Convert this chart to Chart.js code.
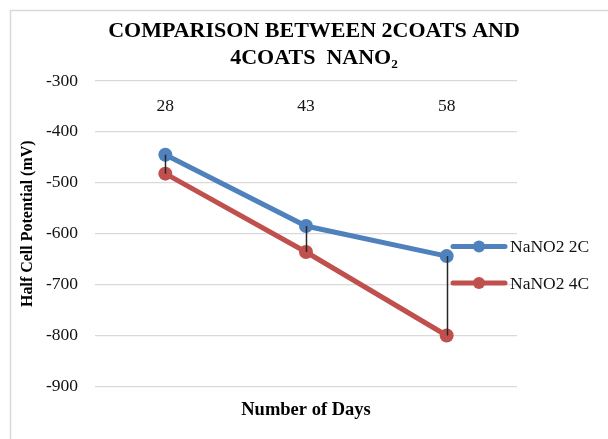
<!DOCTYPE html>
<html>
<head>
<meta charset="utf-8">
<script src="https://cdn.jsdelivr.net/npm/chart.js@4/dist/chart.umd.min.js"></script>
<style>
  html, body { margin: 0; padding: 0; background: #ffffff; }
  #wrap { width: 608px; height: 439px; }
</style>
</head>
<body>
<div id="wrap"><canvas id="c" width="608" height="439"></canvas></div>
<script>
// Half cell potential readings (mV) after each exposure period
const days = ['28', '43', '58'];
const nano2TwoCoats = [-445, -585, -644];
const nano2FourCoats = [-482, -636, -800];
const seriesNames = ['NaNO2 2C', 'NaNO2 4C'];
const seriesColors = ['#4F81BD', '#C0504D'];
const yMin = -900, yMax = -300, yStep = 100;

const serif = "'Liberation Serif', 'Times New Roman', serif";

// Thin frame around the whole chart
const framePlugin = {
  id: 'frame',
  beforeDraw(chart) {
    const ctx = chart.ctx;
    ctx.save();
    ctx.fillStyle = '#ffffff';
    ctx.fillRect(0, 0, chart.width, chart.height);
    ctx.strokeStyle = '#d9d9d9';
    ctx.lineWidth = 1.5;
    ctx.strokeRect(10.5, 10.5, chart.width + 20, chart.height + 20);
    ctx.restore();
  }
};

// Category labels sit just under the top gridline, where the horizontal axis crosses
const dayLabelPlugin = {
  id: 'dayLabels',
  afterDraw(chart) {
    const ctx = chart.ctx, x = chart.scales.x;
    ctx.save();
    ctx.font = '17.5px ' + serif;
    ctx.fillStyle = '#111111';
    ctx.textAlign = 'center';
    ctx.textBaseline = 'middle';
    days.forEach((d, i) => ctx.fillText(d, x.getPixelForValue(i), chart.chartArea.top + 25));
    ctx.restore();
  }
};

// High-low lines joining the two series at each day
const dropLinePlugin = {
  id: 'dropLines',
  afterDatasetsDraw(chart) {
    const ctx = chart.ctx, x = chart.scales.x, y = chart.scales.y;
    ctx.save();
    ctx.strokeStyle = '#262626';
    ctx.lineWidth = 1.5;
    days.forEach((d, i) => {
      const px = Math.round(x.getPixelForValue(i)) + 0.5;
      ctx.beginPath();
      ctx.moveTo(px, y.getPixelForValue(nano2TwoCoats[i]));
      ctx.lineTo(px, y.getPixelForValue(nano2FourCoats[i]));
      ctx.stroke();
    });
    ctx.restore();
  }
};

// Legend with line-and-marker keys, placed over the right edge of the plot
const legendPlugin = {
  id: 'lineLegend',
  afterDraw(chart) {
    const ctx = chart.ctx;
    const rows = [246.5, 283];
    ctx.save();
    chart.data.datasets.forEach((ds, i) => {
      const cy = rows[i];
      ctx.strokeStyle = ds.borderColor;
      ctx.lineWidth = 5;
      ctx.lineCap = 'round';
      ctx.beginPath();
      ctx.moveTo(453, cy);
      ctx.lineTo(505, cy);
      ctx.stroke();
      ctx.fillStyle = ds.borderColor;
      ctx.beginPath();
      ctx.arc(479, cy, 6, 0, Math.PI * 2);
      ctx.fill();
      ctx.fillStyle = '#111111';
      ctx.font = '17.5px ' + serif;
      ctx.textAlign = 'left';
      ctx.textBaseline = 'middle';
      ctx.fillText(ds.label, 510, cy + 1);
    });
    ctx.restore();
  }
};

new Chart(document.getElementById('c'), {
  type: 'line',
  data: {
    labels: days,
    datasets: [
      {
        label: seriesNames[0],
        data: nano2TwoCoats,
        borderColor: seriesColors[0],
        backgroundColor: seriesColors[0],
        pointBackgroundColor: seriesColors[0],
        borderWidth: 5,
        pointRadius: 7,
        pointBorderWidth: 0,
        tension: 0
      },
      {
        label: seriesNames[1],
        data: nano2FourCoats,
        borderColor: seriesColors[1],
        backgroundColor: seriesColors[1],
        pointBackgroundColor: seriesColors[1],
        borderWidth: 5,
        pointRadius: 7,
        pointBorderWidth: 0,
        tension: 0
      }
    ]
  },
  options: {
    responsive: false,
    animation: false,
    devicePixelRatio: 1,
    layout: { padding: { left: 20, right: 0, top: 0, bottom: 12.4 } },
    plugins: {
      legend: { display: false },
      tooltip: { enabled: false },
      title: {
        display: true,
        text: ['COMPARISON BETWEEN 2COATS AND', '4COATS  NANO\u2082'],
        color: '#000000',
        font: { family: serif, size: 22, weight: 'bold', lineHeight: 1.227 },
        padding: { top: 18, bottom: 9 }
      }
    },
    scales: {
      x: {
        type: 'category',
        offset: true,
        grid: { display: false },
        border: { display: false },
        ticks: { display: false },
        title: {
          display: true,
          text: 'Number of Days',
          color: '#000000',
          font: { family: serif, size: 18.5, weight: 'bold', lineHeight: 1.2 },
          padding: { top: 5, bottom: 5 }
        }
      },
      y: {
        type: 'linear',
        position: 'left',
        min: yMin,
        max: yMax,
        afterFit(scale) { scale.width = 75; },
        ticks: {
          stepSize: yStep,
          padding: 17,
          color: '#111111',
          font: { family: serif, size: 17.5 }
        },
        grid: { color: '#d9d9d9', lineWidth: 1.3, drawTicks: false },
        border: { display: false },
        title: {
          display: true,
          text: '\u00a0\u00a0\u00a0\u00a0\u00a0Half Cell Potential (mV)',
          color: '#000000',
          font: { family: serif, size: 16, weight: 'bold', lineHeight: 1 },
          padding: 0
        }
      },
      yRight: {
        type: 'linear',
        position: 'right',
        display: true,
        afterFit(scale) { scale.width = 91; },
        grid: { display: false, drawTicks: false },
        border: { display: false },
        ticks: { display: false }
      }
    }
  },
  plugins: [framePlugin, dropLinePlugin, dayLabelPlugin, legendPlugin]
});
</script>
</body>
</html>
